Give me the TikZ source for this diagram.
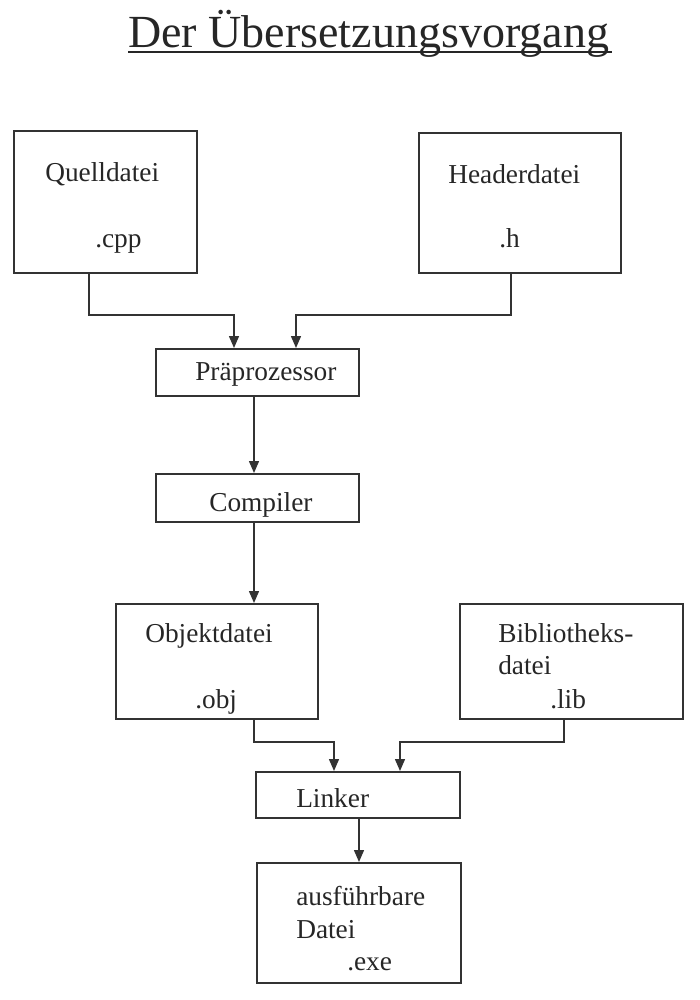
\documentclass[tikz,border=0pt]{standalone}
\usepackage{fontspec}
\setmainfont{Liberation Serif}
\usepackage{tikz}
\usetikzlibrary{arrows.meta,positioning}
\newcommand{\px}{0.75pt}

\begin{document}
\begin{tikzpicture}[x=\px,y=-\px,
        box/.style={draw=black!80,line width=1.25pt,inner sep=0pt,anchor=north west},
        txt/.style={anchor=base west,inner sep=0pt,text=black!85,font=\fontsize{20.5}{24}\selectfont},
        arr/.style={draw=black!80,line width=1.1pt,-{Triangle[length=9pt,width=7.5pt]}}]
        \useasboundingbox (0,0) rectangle (700,1000);
        \node[anchor=base west,inner sep=0pt,text=black!85,font=\fontsize{34.5}{40}\selectfont] (title) at (128,47) {Der Übersetzungsvorgang};
        \draw[line width=1.9pt,black!85] ([yshift=-5*\px]title.base west) -- ([yshift=-5*\px,xshift=3*\px]title.base east);
        % boxes
        \node[box,minimum width=183*\px,minimum height=142*\px] (quelle) at (13,130) {};
        \node[box,minimum width=202*\px,minimum height=140*\px] (header) at (418,132) {};
        \node[box,minimum width=203*\px,minimum height=47*\px]  (prep)   at (155,348) {};
        \node[box,minimum width=203*\px,minimum height=48*\px]  (comp)   at (155,473) {};
        \node[box,minimum width=202*\px,minimum height=115*\px] (obj)    at (115,603) {};
        \node[box,minimum width=223*\px,minimum height=115*\px] (lib)    at (459,603) {};
        \node[box,minimum width=204*\px,minimum height=46*\px]  (linker) at (255,771) {};
        \node[box,minimum width=204*\px,minimum height=120*\px] (exe)    at (256,862) {};
        % texts
        \node[txt] (quelle1) at (45,181)  {Quelldatei};
        \node[txt] (quelle2) at (95,247)  {.cpp};
        \node[txt] (header1) at (448,183) {Headerdatei};
        \node[txt] (header2) at (499,247) {.h};
        \node[txt] (prep1)   at (195,380) {Präprozessor};
        \node[txt] (comp1)   at (209,511) {Compiler};
        \node[txt] (obj1)    at (145,642) {Objektdatei};
        \node[txt] (obj2)    at (195,708) {.obj};
        \node[txt] (lib1)    at (498,642) {Bibliotheks-};
        \node[txt] (lib2)    at (498,674) {datei};
        \node[txt] (lib3)    at (550,708) {.lib};
        \node[txt] (linker1) at (296,807) {Linker};
        \node[txt] (exe1)    at (296,905) {ausführbare};
        \node[txt] (exe2)    at (296,938) {Datei};
        \node[txt] (exe3)    at (347,970) {.exe};
        % connectors
        \draw[arr] (quelle.south -| 89,0) |- (234,315) -- (prep.north -| 234,0);
        \draw[arr] (header.south -| 511,0) |- (296,315) -- (prep.north -| 296,0);
        \draw[arr] (prep.south -| 254,0) -- (comp.north -| 254,0);
        \draw[arr] (comp.south -| 254,0) -- (obj.north -| 254,0);
        \draw[arr] (obj.south -| 254,0) |- (334,742) -- (linker.north -| 334,0);
        \draw[arr] (lib.south -| 564,0) |- (400,742) -- (linker.north -| 400,0);
        \draw[arr] (linker.south -| 359,0) -- (exe.north -| 359,0);
    \end{tikzpicture}
\end{document}
